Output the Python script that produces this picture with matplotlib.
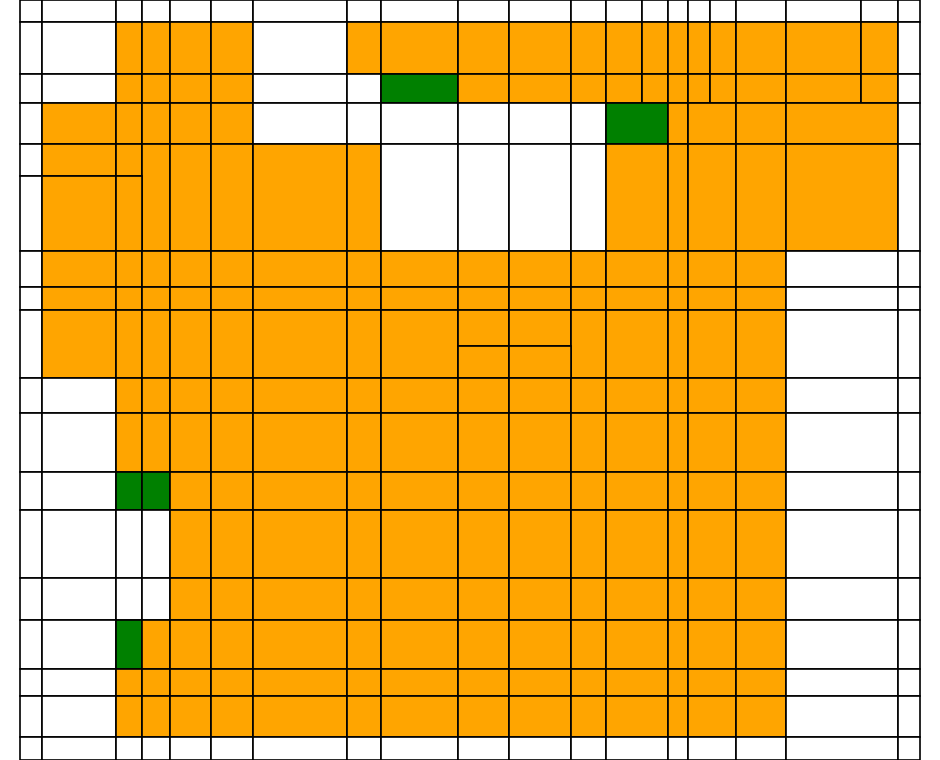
import numpy as np
import matplotlib
matplotlib.use("Agg")
import matplotlib.pyplot as plt
from matplotlib.patches import Rectangle

# column widths and row heights of the mosaic
col_widths = [22, 74, 26, 28, 41, 42, 94, 34, 77, 51, 62, 35, 36, 26, 20, 22, 26, 50, 75, 37, 22]
row_heights = [22, 52, 29, 41, 32, 75, 36, 23, 36, 32, 35, 59, 38, 68, 42, 49, 27, 41, 23]

# w = white, o = orange, g = green, '-' = joined to the cell on the left, '^' = joined to the cell above
tail = "o-" + "o" + "o-" + "o" + "w-" + "w"
rows = [
    "w" * 21,
    "wwoooow" + "o" * 13 + "w",
    "wwoooo" + "ww" + "g" + "o" * 11 + "w",
    "wooooo" + "wwwwww" + "g-" + "o" + "o-" + "o" + "o-" + "w",
    "wooooooo" + "wwww" + "o-" + "o" + "o-" + "o" + "o-" + "w",
    "woo" + "^" * 18,
    "w" + "o" * 11 + tail,
    "w" + "o" * 11 + tail,
    "w" + "o" * 11 + tail,
    "^" * 9 + "oo" + "^" * 10,
    "ww" + "o" * 10 + tail,
    "ww" + "o" * 10 + tail,
    "ww" + "gg" + "o" * 8 + tail,
    "ww" + "ww" + "o" * 8 + tail,
    "ww" + "ww" + "o" * 8 + tail,
    "ww" + "g" + "o" * 9 + tail,
    "ww" + "o" * 10 + tail,
    "ww" + "o" * 10 + tail,
    "w" * 12 + "w-" + "w" + "w-" + "w" + "w-" + "w",
]

colors = {"w": "white", "o": "orange", "g": "green"}

x_edges = np.concatenate([[0], np.cumsum(col_widths)])
y_edges = np.concatenate([[0], np.cumsum(row_heights)])

fig = plt.figure(figsize=(9.4, 7.6), dpi=100)
ax = fig.add_axes([0, 0, 1, 1])

for r, row in enumerate(rows):
    for c, code in enumerate(row):
        if code in "-^":
            continue
        c_end = c + 1
        while c_end < len(row) and row[c_end] == "-":
            c_end += 1
        r_end = r + 1
        while r_end < len(rows) and all(ch == "^" for ch in rows[r_end][c:c_end]):
            r_end += 1
        x0, x1 = x_edges[c], x_edges[c_end]
        y0, y1 = y_edges[r], y_edges[r_end]
        ax.add_patch(Rectangle((x0, y0), x1 - x0, y1 - y0,
                               facecolor=colors[code], edgecolor="black", linewidth=1.2))

ax.set_xlim(-20, x_edges[-1] + 20)
ax.set_ylim(y_edges[-1], 0)
ax.axis("off")

plt.savefig("out.png", dpi=100)
